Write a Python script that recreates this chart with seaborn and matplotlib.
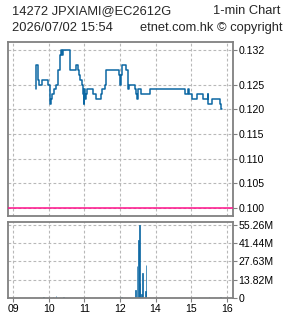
import matplotlib
matplotlib.use("Agg")
import matplotlib.pyplot as plt
import seaborn as sns
import numpy as np
import pandas as pd

sns.set_theme(style="white")
plt.rcParams['font.family'] = ['Liberation Sans', 'DejaVu Sans']

# ---------------- data ----------------
title_left = "14272 JPXIAMI@EC2612G"
title_right = "1-min Chart"
sub_left = "2026/07/02 15:54"
sub_right = "etnet.com.hk © copyright"

price_times = ["09:38", "09:39", "09:42", "09:44", "09:48", "09:58", "10:02", "10:03",
               "10:05", "10:08", "10:12", "10:16", "10:18", "10:20", "10:22", "10:24",
               "10:35", "10:36", "10:46", "10:49", "10:51", "10:52", "10:56", "10:57",
               "10:58", "10:59", "11:00", "11:01", "11:03", "11:05", "11:15", "11:19",
               "11:28", "11:30", "11:34", "11:37", "11:59", "13:00", "13:01", "13:03",
               "13:10", "13:13", "13:14", "13:16", "13:25", "13:27", "13:28", "13:30",
               "13:35", "13:51", "14:50", "14:55", "14:56", "15:01", "15:10", "15:20",
               "15:28", "15:29", "15:35", "15:49", "15:51", "15:53"]
price_values = [0.124, 0.129, 0.126, 0.125, 0.126, 0.125, 0.121, 0.122,
                0.123, 0.124, 0.125, 0.128, 0.131, 0.132, 0.131, 0.132,
                0.131, 0.128, 0.129, 0.128, 0.127, 0.126, 0.125, 0.124,
                0.123, 0.121, 0.124, 0.122, 0.123, 0.124, 0.123, 0.122,
                0.123, 0.124, 0.125, 0.128, 0.127, 0.125, 0.127, 0.129,
                0.128, 0.126, 0.124, 0.125, 0.124, 0.123, 0.122, 0.124,
                0.123, 0.124, 0.123, 0.124, 0.123, 0.122, 0.123, 0.122,
                0.123, 0.121, 0.122, 0.121, 0.120, 0.120]

ref_price = 0.100

vol_times = ["09:50", "09:51", "10:07", "10:12", "10:25", "12:00", "13:03",
             "13:26", "13:29", "13:31", "13:33", "13:34", "13:36", "13:38",
             "13:43", "13:44", "15:30", "15:50"]
vol_values = [0.8e6, 0.8e6, 0.8e6, 1.5e6, 0.8e6, 0.8e6, 0.8e6,
              5.7e6, 24.0e6, 44.0e6, 55.26e6, 11.0e6, 3.0e6, 19.0e6,
              5.0e6, 25.0e6, 0.8e6, 0.8e6]

hour_ticks = ["09", "10", "11", "12", "14", "15", "16"]
price_ticks = [0.100, 0.105, 0.110, 0.115, 0.120, 0.125, 0.132]
price_tick_labels = ["0.100", "0.105", "0.110", "0.115", "0.120", "0.125", "0.132"]
vol_ticks = [0, 13.82e6, 27.63e6, 41.44e6, 55.26e6]
vol_tick_labels = ["0", "13.82M", "27.63M", "41.44M", "55.26M"]


# compressed trading-time axis (lunch 12:00-13:00 removed)
def to_pos(t):
    h, m = t.split(":")
    p = int(h) + int(m) / 60.0
    if p >= 13:
        p -= 1
    return p


price_df = pd.DataFrame({"pos": [to_pos(t) for t in price_times], "price": price_values})
vol_df = pd.DataFrame({"pos": [to_pos(t) for t in vol_times], "vol": vol_values})
tick_pos = [to_pos(h + ":00") for h in hour_ticks]

# ---------------- figure ----------------
W, H = 285, 318
fig = plt.figure(figsize=(W / 100, H / 100), dpi=100)
ax1 = fig.add_axes([8 / W, 1 - 216 / H, 225 / W, 174 / H])
ax2 = fig.add_axes([8 / W, 1 - 298 / H, 225 / W, 76 / H])

line_c = "#0b67a3"
grid_c = "#b8b8b8"
spine_c = "#808080"
xlim = (8.85, 15.18)

sns.lineplot(data=price_df, x="pos", y="price", ax=ax1, drawstyle="steps-post",
             color=line_c, linewidth=1.1, estimator=None, sort=False)
ax1.axhline(ref_price, color="#ff0f8a", linewidth=1.1, zorder=3)

sns.histplot(data=vol_df, x="pos", weights="vol", ax=ax2, binwidth=1 / 60,
             binrange=(9 - 0.5 / 60, 15.5 - 0.5 / 60), color=line_c, alpha=1,
             edgecolor=line_c, linewidth=0.5)

for ax in (ax1, ax2):
    ax.set_xlim(*xlim)
    ax.set_xticks(tick_pos)
    ax.grid(True, color=grid_c, linestyle=(0, (2.5, 2)), linewidth=0.8)
    ax.set_axisbelow(True)
    ax.set_xlabel("")
    ax.set_ylabel("")
    for s in ax.spines.values():
        s.set_color(spine_c)
        s.set_linewidth(1.3)
    ax.yaxis.tick_right()
    ax.tick_params(axis="y", which="both", right=True, left=False, length=3,
                   width=0.8, color=spine_c, pad=1, labelsize=7.6, labelcolor="black")
    ax.tick_params(axis="x", which="both", bottom=True, length=3, width=0.8,
                   color=spine_c, pad=1.5, labelsize=7.6, labelcolor="black")

ax1.set_ylim(0.0984, 0.1336)
ax1.set_yticks(price_ticks)
ax1.set_yticklabels(price_tick_labels)
ax1.set_xticklabels([])
ax1.tick_params(axis="x", length=0)

ax2.set_ylim(0, 57.5e6)
ax2.set_yticks(vol_ticks)
ax2.set_yticklabels(vol_tick_labels)
ax2.set_xticklabels(hour_ticks)

fs = 9.3
fig.text(12 / W, 1 - 11 / H, title_left, ha="left", va="center", fontsize=fs)
fig.text(280 / W, 1 - 11 / H, title_right, ha="right", va="center", fontsize=fs)
fig.text(12 / W, 1 - 28 / H, sub_left, ha="left", va="center", fontsize=fs)
fig.text(282 / W, 1 - 28 / H, sub_right, ha="right", va="center", fontsize=fs)

fig.savefig("out.png", dpi=100, facecolor="white")
